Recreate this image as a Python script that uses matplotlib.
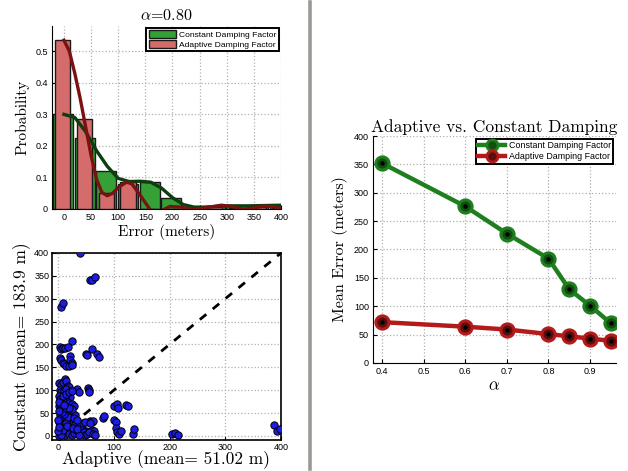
import matplotlib
matplotlib.use("Agg")
import matplotlib.pyplot as plt
from matplotlib.patches import Patch
from matplotlib.lines import Line2D

plt.rcParams['mathtext.fontset'] = 'cm'
plt.rcParams['axes.unicode_minus'] = False
SERIF = 'cmr10'
SANS = 'Liberation Sans'

# ---------------- data ----------------
hist_title = r'$\alpha$=0.80'
bin_centers = [-2, 38, 78, 118, 158, 198, 238, 278, 318, 358, 398]
hist_constant = [0.30, 0.225, 0.12, 0.08, 0.085, 0.035, 0.0, 0.01, 0.01, 0.01, 0.01]
hist_adaptive = [0.535, 0.285, 0.05, 0.085, 0.0, 0.0, 0.0, 0.005, 0.004, 0.006, 0.004]

curve_const_x = [0, 20, 40, 60, 80, 100, 120, 140, 160, 180, 200, 220, 240, 260, 280, 300, 340, 400]
curve_const_y = [0.30, 0.29, 0.245, 0.185, 0.135, 0.097, 0.087, 0.088, 0.085, 0.066, 0.036, 0.014,
                 0.006, 0.006, 0.008, 0.01, 0.01, 0.012]
curve_adapt_x = [0, 10, 20, 30, 40, 50, 60, 70, 80, 90, 100, 115, 125, 140, 150, 160, 175,
                 195, 215, 240, 265, 290, 310, 330, 350, 370, 390, 400]
curve_adapt_y = [0.535, 0.50, 0.43, 0.35, 0.26, 0.17, 0.095, 0.052, 0.042, 0.05, 0.068, 0.085,
                 0.08, 0.045, 0.02, -0.005, -0.01, 0.008, 0.006, -0.002, 0.005, 0.012, 0.008,
                 -0.002, 0.003, 0.01, 0.006, 0.0]

scatter_adaptive = [39, 57, 61, 67, 5, 8, 24, 50, 52, 60, 70, 73,
                    3, 5, 8, 12, 18, 22, 3, 5, 8, 10, 15, 20, 22, 25, 25,
                    33, 38, 54, 55, 55, 80, 82, 100, 100, 103, 105, 107, 122, 126,
                    103, 105, 110, 112, 135, 137, 205, 210, 215, 388, 393, 398,
                    40, 45, 35, 38, 50, 55, 58, 60, 65,
                    2, 5, 8, 12, 15, 18, 20, 3, 6, 10, 14, 22, 2, 4, 8, 12, 16, 20, 25, 28,
                    2, 5, 9, 13, 18, 22, 26, 30, 3, 6, 10, 14, 18, 22, 26, 30, 2, 4, 7, 11,
                    15, 19, 23, 27, 31, 35, 3, 6, 9, 12, 16, 20, 24, 28, 32, 36, 42, 46, 48,
                    52, 56, 62, 66, 40, 44, 48, 3, 1, 5, 8, 14, 17, 11, 7, 4, 1, 9, 14, 19,
                    24, 2, 0, 0, 1, 24, 28, 33, 38, 60, 62, 58, 15, 20, 10, 16, 26, 33]
scatter_constant = [400, 340, 340, 348, 282, 290, 208, 180, 178, 190, 180, 172,
                    195, 190, 192, 192, 195, 175, 170, 165, 160, 158, 152, 152, 165, 160, 155,
                    102, 97, 105, 100, 95, 40, 43, 65, 35, 30, 70, 60, 68, 65,
                    18, 8, 5, 10, 5, 15, 5, 6, 2, 23, 10, 16,
                    10, 5, 25, 28, 10, 30, 32, 12, 10,
                    115, 112, 118, 125, 120, 110, 108, 100, 95, 98, 102, 85, 88, 80, 78, 82,
                    75, 72, 70, 65, 65, 60, 58, 55, 52, 50, 48, 45, 45, 40, 38, 35, 32, 30,
                    28, 25, 30, 25, 22, 20, 18, 15, 12, 10, 8, 5, 15, 10, 5, 2, 8, 4, 2, 6,
                    12, 18, 15, 8, 2, 5, 8, 5, 3, 22, 28, 30, 5, 0, 2, 12, 28, 42, 48, 52,
                    70, 75, 88, 92, 95, 98, 55, 35, 10, 20, 58, 40, 35, 3, 30, 33, 28, 60,
                    62, 68, 22, 18, 14]

diag_x = [0, 400]
diag_y = [0, 400]

alpha_vals = [0.4, 0.6, 0.7, 0.8, 0.85, 0.9, 0.95]
mean_constant = [352, 276, 228, 184, 130, 101, 70]
mean_adaptive = [72, 64, 59, 51, 47, 43, 39]

leg_const = 'Constant Damping Factor'
leg_adapt = 'Adaptive Damping Factor'

# ---------------- figure ----------------
fig = plt.figure(figsize=(6.28, 4.71), dpi=100)

# separator
fig.add_artist(Line2D([310 / 628, 310 / 628], [0.004, 0.996], color='#9a9a94', lw=2.6,
                      transform=fig.transFigure))

grid_kw = dict(color='#b0b0b0', linestyle=':', linewidth=0.9)

# --- histogram ---
ax1 = fig.add_axes([52 / 628, 1 - 209 / 471, 229 / 628, 183 / 471])
ax1.bar(bin_centers, hist_constant, width=37, color='#35a035', edgecolor='#1a1a1a',
        linewidth=1.0, zorder=2)
ax1.bar(bin_centers, hist_adaptive, width=28, color='#d46c6c', edgecolor='#1a1a1a',
        linewidth=1.0, zorder=3)
ax1.plot(curve_const_x, curve_const_y, color='#0e3d0e', lw=2.4, zorder=4)
ax1.plot(curve_adapt_x, curve_adapt_y, color='#7a1212', lw=2.4, zorder=5)
ax1.set_xlim(-22, 400)
ax1.set_ylim(0, 0.58)
ax1.set_xticks([0, 50, 100, 150, 200, 250, 300, 350, 400])
ax1.set_yticks([0, 0.1, 0.2, 0.3, 0.4, 0.5])
ax1.set_yticklabels(['0', '0.1', '0.2', '0.3', '0.4', '0.5'])
ax1.grid(True, **grid_kw)
ax1.set_axisbelow(True)
for s in ['top', 'right']:
    ax1.spines[s].set_visible(False)
ax1.tick_params(labelsize=6.5, direction='in', length=3, pad=3)
for lab in ax1.get_xticklabels() + ax1.get_yticklabels():
    lab.set_fontfamily(SANS)
ax1.set_title(hist_title, fontsize=11.5, family=SERIF, pad=4)
ax1.set_xlabel('Error (meters)', fontsize=11, family=SERIF, labelpad=1)
ax1.set_ylabel('Probability', fontsize=11, family=SERIF, labelpad=4)
h1 = [Patch(facecolor='#35a035', edgecolor='#1a1a1a', label=leg_const),
      Patch(facecolor='#d46c6c', edgecolor='#1a1a1a', label=leg_adapt)]
lg1 = ax1.legend(handles=h1, loc='upper right', bbox_to_anchor=(1.0, 1.0),
                 prop={'family': SANS, 'size': 6.1}, fancybox=False, framealpha=1,
                 edgecolor='black', borderpad=0.3, handlelength=3.2, handleheight=1.0,
                 labelspacing=0.15, handletextpad=0.4, borderaxespad=0.2)
lg1.get_frame().set_linewidth(1.4)

# --- scatter ---
ax2 = fig.add_axes([52 / 628, 1 - 440 / 471, 229 / 628, 187 / 471])
ax2.plot(diag_x, diag_y, color='black', linestyle=(0, (3, 3)), lw=2.0, zorder=2)
ax2.scatter(scatter_adaptive, scatter_constant, s=28, color='#1c1ce6', edgecolor='black',
            linewidth=0.7, zorder=3)
ax2.set_xlim(-11, 400)
ax2.set_ylim(-9, 400)
ax2.set_xticks([0, 100, 200, 300, 400])
ax2.set_yticks([0, 50, 100, 150, 200, 250, 300, 350, 400])
ax2.grid(True, **grid_kw)
ax2.set_axisbelow(True)
for s in ax2.spines.values():
    s.set_linewidth(1.2)
ax2.tick_params(labelsize=6.5, direction='in', length=3, pad=2)
for lab in ax2.get_xticklabels() + ax2.get_yticklabels():
    lab.set_fontfamily(SANS)
ax2.set_xlabel('Adaptive (mean= 51.02 m)', fontsize=12.5, family=SERIF, labelpad=-1)
ax2.set_ylabel('Constant (mean= 183.9 m)', fontsize=12.5, family=SERIF, labelpad=2)

# --- mean error lines ---
ax3 = fig.add_axes([373 / 628, 1 - 363 / 471, 243 / 628, 227 / 471])
ax3.plot(alpha_vals, mean_constant, color='#1f7f1f', lw=3.2, marker='o', ms=9.5,
         mfc='#0f4f0f', mec='#1f7f1f', mew=2.2, zorder=3)
ax3.plot(alpha_vals, mean_constant, linestyle='none', marker='o', ms=2.2, color='black', zorder=4)
ax3.plot(alpha_vals, mean_adaptive, color='#b51a1a', lw=3.2, marker='o', ms=9.5,
         mfc='#5a0f0f', mec='#b51a1a', mew=2.2, zorder=3)
ax3.plot(alpha_vals, mean_adaptive, linestyle='none', marker='o', ms=2.2, color='black', zorder=4)
ax3.set_xlim(0.378, 0.9625)
ax3.set_ylim(0, 400)
ax3.set_xticks([0.4, 0.5, 0.6, 0.7, 0.8, 0.9])
ax3.set_yticks([0, 50, 100, 150, 200, 250, 300, 350, 400])
ax3.grid(True, **grid_kw)
ax3.set_axisbelow(True)
for s in ['top', 'right']:
    ax3.spines[s].set_visible(False)
ax3.tick_params(labelsize=6.5, direction='in', length=3, pad=3)
for lab in ax3.get_xticklabels() + ax3.get_yticklabels():
    lab.set_fontfamily(SANS)
ax3.set_title('Adaptive vs. Constant Damping', fontsize=12.5, family=SERIF, pad=3)
ax3.set_xlabel(r'$\alpha$', fontsize=12, labelpad=0)
ax3.set_ylabel('Mean Error (meters)', fontsize=11.5, family=SERIF, labelpad=4)
h3 = [Line2D([0], [0], color='#1f7f1f', lw=3.2, marker='o', ms=8, mfc='#0f4f0f',
             mec='#1f7f1f', mew=2, label=leg_const),
      Line2D([0], [0], color='#b51a1a', lw=3.2, marker='o', ms=8, mfc='#5a0f0f',
             mec='#b51a1a', mew=2, label=leg_adapt)]
lg3 = ax3.legend(handles=h3, loc='upper right', bbox_to_anchor=(1.0, 1.0),
                 prop={'family': SANS, 'size': 6.4}, fancybox=False, framealpha=1,
                 edgecolor='black', borderpad=0.3, handlelength=3.0,
                 labelspacing=0.2, handletextpad=0.4, borderaxespad=0.3)
lg3.get_frame().set_linewidth(1.4)

fig.savefig('out.png', dpi=100)
